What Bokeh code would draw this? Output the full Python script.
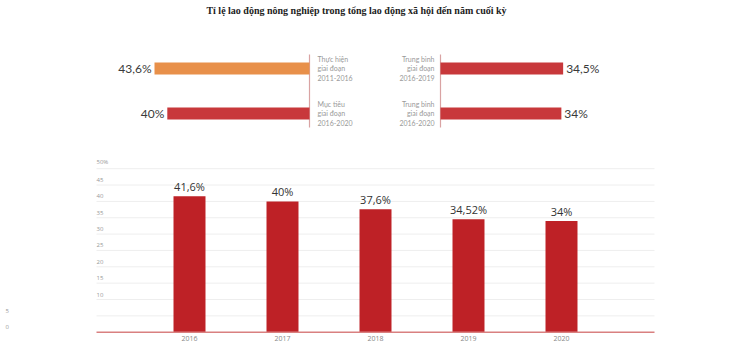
from bokeh.plotting import figure
from bokeh.models import Range1d
from bokeh.embed import file_html
from bokeh.resources import INLINE
from bokeh.core.properties import value

# ---------------- data ----------------
title = "Tỉ lệ lao động nông nghiệp trong tổng lao động xã hội đến năm cuối kỳ"

left_labels = ["Thực hiện\ngiai đoạn\n2011-2016", "Mục tiêu\ngiai đoạn\n2016-2020"]
left_values = [43.6, 40]
left_texts = ["43,6%", "40%"]
left_colors = ["#E8904A", "#C8383B"]

right_labels = ["Trung bình\ngiai đoạn\n2016-2019", "Trung bình\ngiai đoạn\n2016-2020"]
right_values = [34.5, 34]
right_texts = ["34,5%", "34%"]
right_colors = ["#C8383B", "#C8383B"]

years = [2016, 2017, 2018, 2019, 2020]
year_labels = ["2016", "2017", "2018", "2019", "2020"]
year_values = [41.6, 40, 37.6, 34.52, 34]
year_texts = ["41,6%", "40%", "37,6%", "34,52%", "34%"]

grid_values = [50, 45, 40, 35, 30, 25, 20, 15, 10, 5]
tick_values = [50, 45, 40, 35, 30, 25, 20, 15, 10]
tick_labels = ["50%", "45", "40", "35", "30", "25", "20", "15", "10"]
stray_tick_values = [5, 0]
stray_tick_labels = ["5", "0"]

# ---------------- figure ----------------
W, H = 750, 351
p = figure(width=W, height=H, x_range=Range1d(0, W), y_range=Range1d(H, 0),
           output_backend="svg", toolbar_location=None, min_border=0,
           x_axis_type=None, y_axis_type=None, outline_line_color=None,
           background_fill_color="white", border_fill_color="white")
p.grid.visible = False

# scales
LZ, RZ, SC = 309, 440, 3.555
p.extra_x_ranges = {
    "tl": Range1d(start=LZ / SC, end=(LZ - W) / SC),
    "tr": Range1d(start=-RZ / SC, end=(W - RZ) / SC),
    "yr": Range1d(start=2016 - 189 / 93, end=2016 + (W - 189) / 93),
}
BASE, PX = 331.7, 3.27
ROW0, ROWSTEP = 68, 45
p.extra_y_ranges = {
    "rows": Range1d(start=(H - ROW0) / ROWSTEP, end=-ROW0 / ROWSTEP),
    "pct": Range1d(start=-(H - BASE) / PX, end=BASE / PX),
}

# title
p.text(x=[356], y=[10], text=[title], text_align="center", text_baseline="middle",
       text_font=value("Liberation Serif"), text_font_style="bold",
       text_font_size="10px", text_color="#222222")

# ---------- top-left panel ----------
rows = list(range(len(left_values)))
p.segment(x0=[0], x1=[0], y0=[-0.31], y1=[1.31], line_color="#D9A3A3", line_width=1.2,
          x_range_name="tl", y_range_name="rows")
p.hbar(y=rows, left=0, right=left_values, height=0.27, fill_color=left_colors,
       line_color=None, x_range_name="tl", y_range_name="rows")
p.text(x=left_values, y=rows, text=left_texts, x_offset=-3, text_align="right",
       text_baseline="middle", text_font=value("Lato"), text_font_size="12px",
       text_color="#3A3A3A", x_range_name="tl", y_range_name="rows")
p.text(x=[0, 0], y=rows, text=left_labels, x_offset=8, text_align="left",
       text_baseline="middle", text_font=value("Lato"), text_font_size="7px",
       text_line_height=1.2, text_color="#999999", x_range_name="tl", y_range_name="rows")

# ---------- top-right panel ----------
rrows = list(range(len(right_values)))
p.segment(x0=[0], x1=[0], y0=[-0.31], y1=[1.31], line_color="#D9A3A3", line_width=1.2,
          x_range_name="tr", y_range_name="rows")
p.hbar(y=rrows, left=0, right=right_values, height=0.27, fill_color=right_colors,
       line_color=None, x_range_name="tr", y_range_name="rows")
p.text(x=right_values, y=rrows, text=right_texts, x_offset=3, text_align="left",
       text_baseline="middle", text_font=value("Lato"), text_font_size="12px",
       text_color="#3A3A3A", x_range_name="tr", y_range_name="rows")
p.text(x=[0, 0], y=rrows, text=right_labels, x_offset=-6, text_align="right",
       text_baseline="middle", text_font=value("Lato"), text_font_size="7px",
       text_line_height=1.2, text_color="#999999", x_range_name="tr", y_range_name="rows")

# ---------- bottom bar chart ----------
x_lo, x_hi = years[0] - 1, years[-1] + 1
p.segment(x0=[x_lo] * len(grid_values), x1=[x_hi] * len(grid_values),
          y0=grid_values, y1=grid_values, line_color="#EEEEEE", line_width=1,
          x_range_name="yr", y_range_name="pct")
p.vbar(x=years, top=year_values, bottom=0, width=0.344, fill_color="#BE2126",
       line_color=None, x_range_name="yr", y_range_name="pct")
p.segment(x0=[x_lo], x1=[x_hi], y0=[0], y1=[0], line_color="#D98080", line_width=1.5,
          x_range_name="yr", y_range_name="pct")
p.text(x=years, y=year_values, text=year_texts, y_offset=-2, text_align="center",
       text_baseline="bottom", text_font=value("Open Sans"), text_font_size="11px",
       text_color="#333333", x_range_name="yr", y_range_name="pct")
p.text(x=years, y=[0] * len(years), text=year_labels, y_offset=4, text_align="center",
       text_baseline="top", text_font=value("Open Sans"), text_font_size="7px",
       text_color="#888888", x_range_name="yr", y_range_name="pct")
p.text(x=[x_lo] * len(tick_values), y=tick_values, text=tick_labels, y_offset=-3,
       text_align="left", text_baseline="bottom", text_font=value("Open Sans"),
       text_font_size="6px", text_color="#999999", x_range_name="yr", y_range_name="pct")
p.text(x=[5] * len(stray_tick_values), y=stray_tick_values, text=stray_tick_labels,
       y_offset=-3, text_align="left", text_baseline="bottom",
       text_font=value("Open Sans"), text_font_size="6px", text_color="#999999",
       y_range_name="pct")

open("out.html", "w").write(file_html(p, INLINE))
